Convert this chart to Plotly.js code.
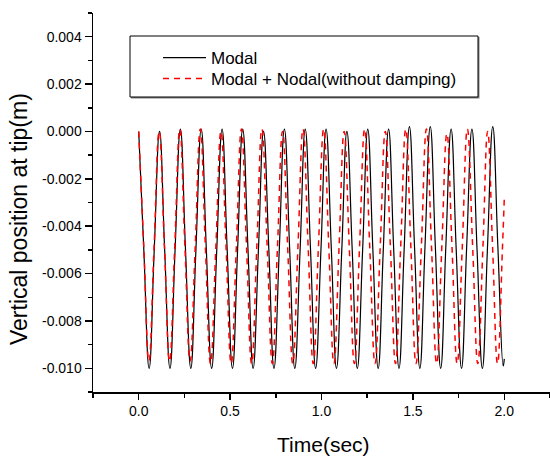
<!DOCTYPE html>
<html>
<head>
<meta charset="utf-8">
<script src="https://cdn.plot.ly/plotly-3.0.1.min.js"></script>
<style>html,body{margin:0;padding:0;background:#fff;}#chart{width:550px;height:459px;}</style>
</head>
<body>
<div id="chart"></div>
<script>
// ---- Data ----
const seriesNames = ['Modal', 'Modal + Nodal(without damping)'];

// Modal (black solid): peaks, quarter points and troughs
const modalTime = [
  0.000, 0.028, 0.057, 0.085,
  0.114, 0.142, 0.171, 0.199,
  0.228, 0.256, 0.285, 0.313,
  0.342, 0.370, 0.399, 0.427,
  0.456, 0.484, 0.513, 0.541,
  0.569, 0.598, 0.626, 0.655,
  0.683, 0.712, 0.740, 0.769,
  0.797, 0.826, 0.854, 0.883,
  0.911, 0.940, 0.968, 0.997,
  1.025, 1.054, 1.082, 1.111,
  1.139, 1.168, 1.196, 1.225,
  1.253, 1.281, 1.310, 1.338,
  1.367, 1.395, 1.424, 1.452,
  1.481, 1.509, 1.538, 1.566,
  1.595, 1.623, 1.652, 1.680,
  1.709, 1.737, 1.766, 1.794,
  1.823, 1.851, 1.880, 1.908,
  1.937, 1.965, 1.994, 2.000
];
const modalPos = [
  0.0000, -0.0050, -0.0100, -0.0050,
  0.0000, -0.0050, -0.0100, -0.0050,
  0.0001, -0.0050, -0.0100, -0.0050,
  0.0001, -0.0050, -0.0100, -0.0050,
  0.0001, -0.0050, -0.0100, -0.0050,
  0.0001, -0.0050, -0.0100, -0.0050,
  0.0000, -0.0050, -0.0100, -0.0050,
  0.0001, -0.0050, -0.0100, -0.0050,
  0.0001, -0.0050, -0.0100, -0.0050,
  0.0001, -0.0050, -0.0100, -0.0050,
  0.0000, -0.0050, -0.0100, -0.0050,
  0.0001, -0.0050, -0.0100, -0.0050,
  0.0001, -0.0050, -0.0100, -0.0050,
  0.0002, -0.0049, -0.0100, -0.0049,
  0.0002, -0.0049, -0.0100, -0.0049,
  0.0001, -0.0050, -0.0100, -0.0049,
  0.0001, -0.0050, -0.0100, -0.0049,
  0.0002, -0.0049, -0.0099, -0.0096
];

// Modal + Nodal (red dashed): slightly shorter period
const nodalTime = [
  0.000, 0.028, 0.056, 0.084,
  0.112, 0.141, 0.169, 0.197,
  0.225, 0.253, 0.281, 0.309,
  0.337, 0.365, 0.393, 0.422,
  0.450, 0.478, 0.506, 0.534,
  0.562, 0.590, 0.618, 0.646,
  0.674, 0.703, 0.731, 0.759,
  0.787, 0.815, 0.843, 0.871,
  0.899, 0.927, 0.955, 0.983,
  1.012, 1.040, 1.068, 1.096,
  1.124, 1.152, 1.180, 1.208,
  1.236, 1.264, 1.293, 1.321,
  1.349, 1.377, 1.405, 1.433,
  1.461, 1.489, 1.517, 1.546,
  1.574, 1.602, 1.630, 1.658,
  1.686, 1.714, 1.742, 1.770,
  1.798, 1.827, 1.855, 1.883,
  1.909, 1.936, 1.963, 1.990, 2.000
];
const nodalPos = [
  0.0000, -0.0049, -0.0097, -0.0049,
  0.0000, -0.0049, -0.0097, -0.0049,
  0.0001, -0.0049, -0.0097, -0.0049,
  0.0001, -0.0049, -0.0098, -0.0049,
  0.0000, -0.0049, -0.0098, -0.0049,
  0.0001, -0.0049, -0.0098, -0.0049,
  0.0001, -0.0049, -0.0098, -0.0049,
  0.0000, -0.0049, -0.0098, -0.0049,
  0.0001, -0.0049, -0.0098, -0.0049,
  0.0001, -0.0049, -0.0098, -0.0049,
  0.0000, -0.0049, -0.0098, -0.0049,
  0.0001, -0.0049, -0.0098, -0.0049,
  0.0000, -0.0049, -0.0098, -0.0049,
  0.0001, -0.0049, -0.0098, -0.0049,
  0.0001, -0.0049, -0.0098, -0.0049,
  -0.0001, -0.0049, -0.0098, -0.0049,
  0.0001, -0.0049, -0.0098, -0.0049,
  0.0000, -0.0049, -0.0098, -0.0049, -0.0028
];

const xTickVals = [0, 0.5, 1.0, 1.5, 2.0];
const xTickText = ['0.0', '0.5', '1.0', '1.5', '2.0'];
const yTickVals = [-0.010, -0.008, -0.006, -0.004, -0.002, 0.000, 0.002, 0.004];
const yTickText = ['-0.010', '-0.008', '-0.006', '-0.004', '-0.002', '0.000', '0.002', '0.004'];

const xTitle = 'Time(sec)';
const yTitle = 'Vertical position at tip(m)';

// ---- Chart ----
const FONT = 'Arial, "Liberation Sans", sans-serif';

const traces = [
  {
    x: modalTime, y: modalPos, name: seriesNames[0], type: 'scatter', mode: 'lines',
    legend: 'legend',
    line: {color: '#000000', width: 1.2, shape: 'spline', smoothing: 1.3}
  },
  {
    x: nodalTime, y: nodalPos, name: seriesNames[1], type: 'scatter', mode: 'lines',
    legend: 'legend2',
    line: {color: '#ff0000', width: 1.5, dash: '6px,5px', shape: 'spline', smoothing: 1.3}
  }
];

const L = 93, T = 13, W = 550, H = 459, B = 67, R = 0;
const PW = W - L - R, PH = H - T - B;
function px2paperX(px) { return (px - L) / PW; }
function px2paperY(py) { return (H - B - py) / PH; }

function legendAt(topPx) {
  return {
    x: px2paperX(158), y: px2paperY(topPx), xanchor: 'left', yanchor: 'top',
    bgcolor: 'rgba(0,0,0,0)', borderwidth: 0,
    font: {family: FONT, size: 17, color: '#000000'},
    itemwidth: 43
  };
}

const layout = {
  width: W, height: H,
  margin: {l: L, r: R, t: T, b: B, pad: 0},
  paper_bgcolor: '#ffffff', plot_bgcolor: '#ffffff',
  font: {family: FONT, color: '#000000', size: 14},
  showlegend: true,
  legend: legendAt(40),
  legend2: legendAt(61),
  xaxis: {
    range: [-0.25, 2.25], fixedrange: true,
    showline: true, linecolor: '#000000', linewidth: 1.5,
    showgrid: false, zeroline: false,
    ticks: 'outside', ticklen: 6, tickwidth: 1.5, tickcolor: '#000000',
    tickmode: 'array', tickvals: xTickVals, ticktext: xTickText,
    tickfont: {family: FONT, size: 14, color: '#000000'},
    minor: {tickmode: 'linear', tick0: 0, dtick: 0.25, ticks: 'outside', ticklen: 4, tickwidth: 1.5, tickcolor: '#000000', showgrid: false}
  },
  yaxis: {
    range: [-0.011, 0.005], fixedrange: true,
    showline: true, linecolor: '#000000', linewidth: 1.5,
    showgrid: false, zeroline: false,
    ticks: 'outside', ticklen: 7, tickwidth: 1.5, tickcolor: '#000000',
    tickmode: 'array', tickvals: yTickVals, ticktext: yTickText,
    tickfont: {family: FONT, size: 14, color: '#000000'},
    minor: {tickmode: 'linear', tick0: 0, dtick: 0.001, ticks: 'outside', ticklen: 4, tickwidth: 1.5, tickcolor: '#000000', showgrid: false}
  },
  shapes: [
    {type: 'rect', xref: 'paper', yref: 'paper', layer: 'above',
     x0: px2paperX(131), x1: px2paperX(479.5), y0: px2paperY(37), y1: px2paperY(98.5),
     line: {width: 0}, fillcolor: '#808080'},
    {type: 'rect', xref: 'paper', yref: 'paper', layer: 'above',
     x0: px2paperX(130), x1: px2paperX(478), y0: px2paperY(36), y1: px2paperY(97),
     line: {width: 1, color: '#000000'}, fillcolor: '#ffffff'}
  ],
  annotations: [
    {text: xTitle, xref: 'paper', yref: 'paper', x: px2paperX(323), y: px2paperY(444),
     xanchor: 'center', yanchor: 'middle', showarrow: false,
     font: {family: FONT, size: 21, color: '#000000'}},
    {text: yTitle, xref: 'paper', yref: 'paper', x: px2paperX(19), y: px2paperY(219),
     xanchor: 'center', yanchor: 'middle', textangle: -90, showarrow: false,
     font: {family: FONT, size: 23, color: '#000000'}}
  ]
};

Plotly.newPlot('chart', traces, layout, {displayModeBar: false, staticPlot: true});
</script>
</body>
</html>
